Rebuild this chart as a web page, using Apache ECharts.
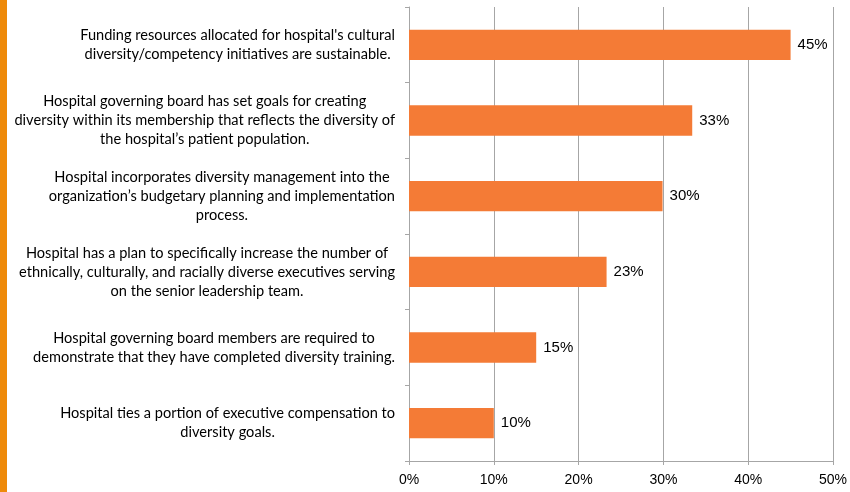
<!DOCTYPE html>
<html>
<head>
<meta charset="utf-8">
<script src="https://cdn.jsdelivr.net/npm/echarts@6/dist/echarts.min.js"></script>
<style>
    html, body { margin: 0; padding: 0; background: #fff; }
    #chart { width: 850px; height: 492px; }
</style>
</head>
<body>
<div id="chart"></div>
<script>
    // 类目（从上到下）
    var categories = [
        "Funding resources allocated for hospital's cultural\ndiversity/competency initiatives are sustainable.",
        "Hospital governing board has set goals for creating\ndiversity within its membership that reflects the diversity of\nthe hospital\u2019s patient population.",
        "Hospital incorporates diversity management into the\norganization\u2019s budgetary planning and implementation\nprocess.",
        "Hospital has a plan to specifically increase the number of\nethnically, culturally, and racially diverse executives serving\non the senior leadership team.",
        "Hospital governing board members are required to\ndemonstrate that they have completed diversity training.",
        "Hospital ties a portion of executive compensation to\ndiversity goals."
    ];
    // 百分比数值
    var values = [45, 33.4, 29.9, 23.3, 15, 10];
    var tickLabels = ['0%', '10%', '20%', '30%', '40%', '50%'];

    var barColor = '#F47B36';
    var gridColor = '#A6A6A6';

    var chart = echarts.init(document.getElementById('chart'));
    var option = {
        animation: false,
        grid: {
            left: 409,
            right: 17,
            top: 7,
            bottom: 31,
            containLabel: false
        },
        graphic: [
            {
                type: 'rect',
                left: 0,
                top: 0,
                shape: { width: 7, height: 492 },
                style: { fill: '#EE8A0A' }
            }
        ],
        xAxis: {
            type: 'value',
            min: 0,
            max: 50,
            interval: 10,
            axisLine: { show: true, lineStyle: { color: gridColor } },
            axisTick: { show: true, length: 4, lineStyle: { color: gridColor } },
            splitLine: { show: true, lineStyle: { color: gridColor, width: 1 } },
            axisLabel: {
                color: '#000',
                fontFamily: 'Liberation Sans',
                fontSize: 14,
                margin: 12,
                formatter: function (v) { return tickLabels[v / 10]; }
            }
        },
        yAxis: {
            type: 'category',
            inverse: true,
            data: categories,
            axisLine: { show: true, lineStyle: { color: gridColor } },
            axisTick: { show: true, length: 4, lineStyle: { color: gridColor } },
            splitLine: { show: false },
            axisLabel: {
                margin: 14,
                color: '#000',
                fontFamily: 'Lato',
                fontSize: 14.6,
                lineHeight: 19,
                formatter: function (v) { return '{c|' + v + '}'; },
                rich: {
                    c: {
                        align: 'center',
                        fontFamily: 'Lato',
                        fontSize: 14.6,
                        lineHeight: 19,
                        color: '#000'
                    }
                }
            }
        },
        series: [
            {
                type: 'bar',
                data: values,
                barCategoryGap: '60%',
                itemStyle: { color: barColor },
                label: {
                    show: true,
                    position: 'right',
                    distance: 7,
                    color: '#000',
                    fontFamily: 'Liberation Sans',
                    fontSize: 15,
                    formatter: function (p) { return Math.round(p.value) + '%'; }
                }
            }
        ]
    };
    chart.setOption(option);
</script>
</body>
</html>
